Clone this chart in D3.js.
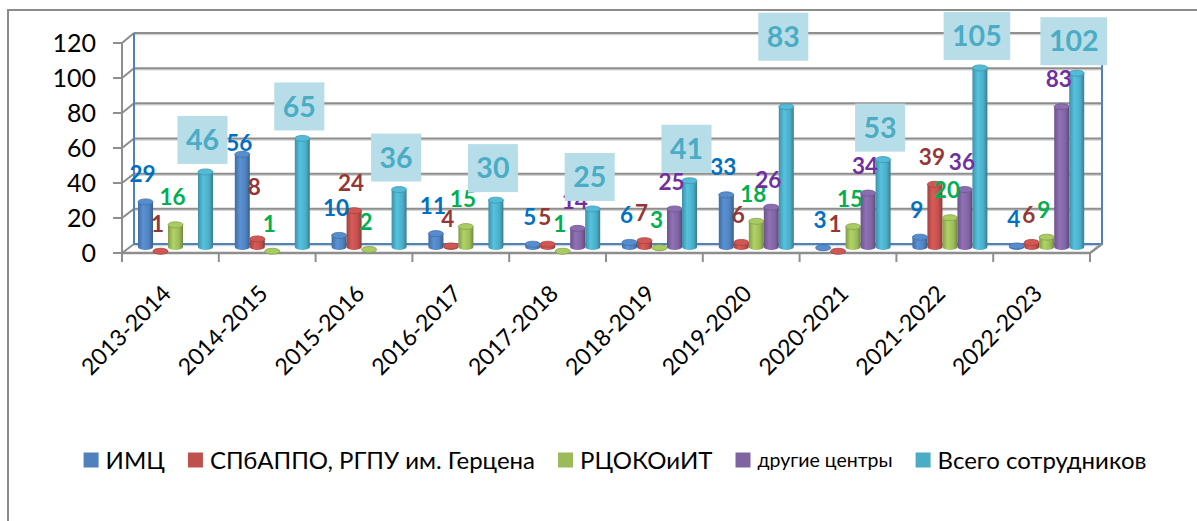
<!DOCTYPE html>
<meta charset="utf-8" />
<style>
  body { margin: 0; background: #fff; }
  svg text { font-family: Lato, "Open Sans", sans-serif; }
  .ylab { font-size: 25px; fill: #000; }
  .xlab { font-size: 23px; fill: #000; }
  .leg { font-size: 24px; fill: #000; }
  .dlab { font-size: 22.5px; font-weight: bold; }
  .tlab { font-size: 28.5px; font-weight: bold; fill: #4bacc6; }
</style>
<svg width="1197" height="521"></svg>
<script src="https://cdn.jsdelivr.net/npm/d3@7"></script>
<script>
  var categories = ["2013-2014", "2014-2015", "2015-2016", "2016-2017", "2017-2018",
    "2018-2019", "2019-2020", "2020-2021", "2021-2022", "2022-2023"];
  var seriesNames = ["ИМЦ", "СПбАППО, РГПУ им. Герцена", "РЦОКОиИТ", "другие центры", "Всего сотрудников"];
  var imc = [29, 56, 10, 11, 5, 6, 33, 3, 9, 4];
  var spbappo = [1, 8, 24, 4, 5, 7, 6, 1, 39, 6];
  var rcokoit = [16, 1, 2, 15, 1, 3, 18, 15, 20, 9];
  var otherCentres = [null, null, null, null, 14, 25, 26, 34, 36, 83];
  var totalStaff = [46, 65, 36, 30, 25, 41, 83, 53, 105, 102];
  var yTicks = [0, 20, 40, 60, 80, 100, 120];

  var barColors = ["#4f81bd", "#c0504d", "#9bbb59", "#8064a2", "#4bacc6"];
  var labelColors = ["#0070c0", "#953735", "#00b050", "#7030a0", "#4bacc6"];
  // labels that were dragged by hand in the original (series, category, px)
  var labelShift = [[0, 1, 16], [1, 1, -25], [4, 6, -38]];

  var seriesData = [imc, spbappo, rcokoit, otherCentres, totalStaff];

  var svg = d3.select("svg");

  // outer frame (right & bottom edges fall outside the picture)
  svg.append("rect")
    .attr("x", 8).attr("y", 10)
    .attr("width", 1250).attr("height", 600)
    .attr("fill", "none").attr("stroke", "#8c8c8c").attr("stroke-width", 2);

  var yBack = d3.scaleLinear().domain([0, 120]).range([244, 33]),
    yFront = d3.scaleLinear().domain([0, 120]).range([253, 43]),
    yBar = d3.scaleLinear().domain([0, 120]).range([250, 38.5]);

  var xBack = d3.scaleBand().domain(categories).range([134, 1102]),
    xFront = d3.scaleBand().domain(categories).range([122, 1090]),
    xSeries = d3.scaleBand().domain(d3.range(5)).range([4, 79]);

  var defs = svg.append("defs");
  barColors.forEach(function(c, i) {
    var gr = defs.append("linearGradient").attr("id", "cyl" + i)
      .attr("x1", "0").attr("x2", "1").attr("y1", "0").attr("y2", "0");
    gr.append("stop").attr("offset", "0%").attr("stop-color", d3.color(c).darker(0.5));
    gr.append("stop").attr("offset", "35%").attr("stop-color", d3.color(c).brighter(0.35));
    gr.append("stop").attr("offset", "75%").attr("stop-color", c);
    gr.append("stop").attr("offset", "100%").attr("stop-color", d3.color(c).darker(0.9));
  });

  // gridlines + walls
  var grid = svg.append("g");
  yTicks.forEach(function(t) {
    grid.append("line")
      .attr("x1", 134).attr("x2", 1101)
      .attr("y1", yBack(t) + 1.5).attr("y2", yBack(t) + 1.5)
      .attr("stroke", "#d4d4d4").attr("stroke-width", 1.5);
    grid.append("line")
      .attr("x1", 134).attr("x2", 1101)
      .attr("y1", yBack(t)).attr("y2", yBack(t))
      .attr("stroke", "#8e8e8e").attr("stroke-width", 2);
    grid.append("path")
      .attr("d", "M113," + yFront(t) + "H122L134," + yBack(t))
      .attr("fill", "none").attr("stroke", "#8e8e8e").attr("stroke-width", 2);
    grid.append("text").attr("class", "ylab")
      .attr("x", 96).attr("y", yFront(t)).attr("dy", "0.36em")
      .attr("text-anchor", "end").text(t);
  });
  grid.append("line")
    .attr("x1", 122).attr("x2", 122).attr("y1", yFront(120)).attr("y2", yFront(0))
    .attr("stroke", "#8e8e8e").attr("stroke-width", 2);
  grid.append("path")
    .attr("d", "M134," + yBack(120) + "V" + yBack(0) + "H1102V" + yBack(120))
    .attr("fill", "none").attr("stroke", "#4f81bd").attr("stroke-width", 2);

  // floor front edge and ticks
  grid.append("path")
    .attr("d", "M122," + yFront(0) + "H1090L1102," + yBack(0))
    .attr("fill", "none").attr("stroke", "#8e8e8e").attr("stroke-width", 2.5);
  categories.concat(["end"]).forEach(function(c, i) {
    var x = 122 + i * xFront.step();
    grid.append("line")
      .attr("x1", x).attr("x2", x).attr("y1", yFront(0)).attr("y2", yFront(0) + 9)
      .attr("stroke", "#8e8e8e").attr("stroke-width", 2);
  });

  // category labels
  svg.append("g").selectAll("text")
    .data(categories).enter().append("text")
    .attr("class", "xlab")
    .attr("text-anchor", "end")
    .attr("transform", function(d) {
      return "translate(" + (xFront(d) + xFront.bandwidth() / 2 + 2) + ",295) rotate(-45)";
    })
    .text(function(d) { return d; });

  // cylinders
  var rx = 7.5, ry = 3;
  var bars = svg.append("g");
  categories.forEach(function(cat, ci) {
    seriesData.forEach(function(arr, si) {
      var v = arr[ci];
      if (v == null) return;
      var cx = xBack(cat) + xSeries(si) + xSeries.bandwidth() / 2;
      var top = yBar(v) + ry, bot = yBar(0) - ry;
      if (bot < top) bot = top;
      var g = bars.append("g");
      g.append("path")
        .attr("d", "M" + (cx - rx) + "," + top + "V" + bot +
          "A" + rx + "," + ry + " 0 0 0 " + (cx + rx) + "," + bot +
          "V" + top + "Z")
        .attr("fill", "url(#cyl" + si + ")");
      g.append("ellipse")
        .attr("cx", cx).attr("cy", top).attr("rx", rx).attr("ry", ry)
        .attr("fill", d3.color(barColors[si]).brighter(0.25))
        .attr("stroke", d3.color(barColors[si]).darker(0.4)).attr("stroke-width", 0.8);
    });
  });

  function shiftFor(si, ci) {
    var s = 0;
    labelShift.forEach(function(l) { if (l[0] === si && l[1] === ci) s = l[2]; });
    return s;
  }

  // data labels for the first four series
  var labels = svg.append("g");
  [0, 1, 2, 3].forEach(function(si) {
    seriesData[si].forEach(function(v, ci) {
      if (v == null) return;
      var cx = xBack(categories[ci]) + xSeries(si) + xSeries.bandwidth() / 2 - 3;
      labels.append("text").attr("class", "dlab")
        .attr("x", cx).attr("y", yBar(v) - 24.5 + shiftFor(si, ci))
        .attr("dy", "0.36em").attr("text-anchor", "middle")
        .attr("fill", labelColors[si]).text(v);
    });
  });

  // boxed totals
  totalStaff.forEach(function(v, ci) {
    var cx = xBack(categories[ci]) + xSeries(4) + xSeries.bandwidth() / 2 - 3;
    var cy = yBar(v) - 29 + shiftFor(4, ci);
    var g = labels.append("g");
    var box = g.append("rect").attr("fill", "#b7dee8");
    var t = g.append("text").attr("class", "tlab")
      .attr("x", cx).attr("y", cy).attr("dy", "0.36em")
      .attr("text-anchor", "middle").text(v);
    var w = t.node().getComputedTextLength() + 17;
    box.attr("x", cx - w / 2).attr("y", cy - 24).attr("width", w).attr("height", 48);
  });

  // legend
  var leg = svg.append("g");
  var xPos = 0;
  seriesNames.forEach(function(name, i) {
    var g = leg.append("g");
    g.append("rect").attr("x", 0).attr("y", -7.5).attr("width", 15).attr("height", 15)
      .attr("fill", barColors[i]);
    var t = g.append("text").attr("class", "leg")
      .attr("x", 22).attr("dy", "0.36em").text(name);
    if (i === 3) t.style("font-size", "19.5px");
    var w = 22 + t.node().getComputedTextLength();
    g.attr("transform", "translate(" + xPos + ",0)");
    xPos += w + 23;
  });
  var legW = xPos - 23;
  leg.attr("transform", "translate(" + (615 - legW / 2) + ",460)");
</script>
